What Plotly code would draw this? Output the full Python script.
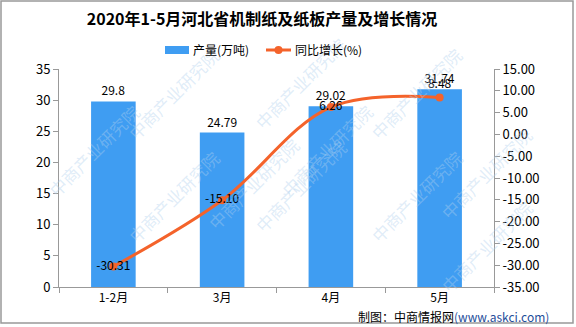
import plotly.graph_objects as go

categories = ["1-2月", "3月", "4月", "5月"]
output_wt = [29.8, 24.79, 29.02, 31.74]
growth_pct = [-30.31, -15.10, 6.26, 8.48]

left_ticks = [0, 5, 10, 15, 20, 25, 30, 35]
right_ticks = [15, 10, 5, 0, -5, -10, -15, -20, -25, -30, -35]
right_labels = ["%.2f" % v for v in right_ticks]
growth_labels = ["%.2f" % v for v in growth_pct]
series_names = ["产量(万吨)", "同比增长(%)"]

BAR = "#3F9DF2"
LINE = "#F4632B"
FONT = "Noto Sans CJK SC"

fig = go.Figure()
fig.add_trace(go.Bar(
    x=categories, y=output_wt, name=series_names[0],
    marker=dict(color=BAR, line=dict(width=0)),
    text=[str(v) for v in output_wt], textposition="outside",
    textfont=dict(size=12, color="#000000", family=FONT),
    cliponaxis=False, showlegend=False,
))
fig.add_trace(go.Scatter(
    x=categories, y=growth_pct, name=series_names[1], yaxis="y2",
    mode="lines+markers+text",
    line=dict(color=LINE, width=3, shape="spline", smoothing=1.0),
    marker=dict(color=LINE, size=8),
    text=growth_labels,
    textposition=["middle center", "middle center", "middle center", "top center"],
    textfont=dict(size=12, color="#000000", family=FONT),
    cliponaxis=False, showlegend=False,
))

# pixel positions converted to paper units of the plot area
def px_to_paper(px, py):
    return (px - 59) / 435.0, (287 - py) / 218.0

# faint diagonal watermark across the canvas
wm_px = [(120, 40), (300, 30), (470, 40),
         (40, 150), (200, 130), (380, 150), (540, 120),
         (120, 250), (300, 240), (470, 250), (540, 300)]
for (wx, wy) in wm_px:
    px, py = px_to_paper(wx, wy)
    fig.add_annotation(x=px, y=py, xref="paper", yref="paper", text="中商产业研究院",
                       showarrow=False, textangle=-45,
                       font=dict(size=17, color="rgba(175,208,238,0.4)", family=FONT))

# legend drawn by hand: wide swatch for the bars, line with dot for the growth series
r0x, r0y = px_to_paper(165, 54)
r1x, r1y = px_to_paper(189, 46)
fig.add_shape(type="rect", xref="paper", yref="paper", x0=r0x, x1=r1x, y0=r0y, y1=r1y,
              fillcolor=BAR, line=dict(width=0))
t0x, t0y = px_to_paper(191, 50)
fig.add_annotation(x=t0x, y=t0y, xref="paper", yref="paper", xanchor="left", yanchor="middle",
                   text=series_names[0], showarrow=False,
                   font=dict(size=12, color="#000000", family=FONT))
l0x, l0y = px_to_paper(266, 50)
l1x, _ = px_to_paper(291, 50)
fig.add_shape(type="line", xref="paper", yref="paper", x0=l0x, x1=l1x, y0=l0y, y1=l0y,
              line=dict(color=LINE, width=3))
c0x, c0y = px_to_paper(274.5, 54)
c1x, c1y = px_to_paper(282.5, 46)
fig.add_shape(type="circle", xref="paper", yref="paper", x0=c0x, x1=c1x, y0=c0y, y1=c1y,
              fillcolor=LINE, line=dict(width=0))
t1x, t1y = px_to_paper(293, 50)
fig.add_annotation(x=t1x, y=t1y, xref="paper", yref="paper", xanchor="left", yanchor="middle",
                   text=series_names[1], showarrow=False,
                   font=dict(size=12, color="#000000", family=FONT))

fx, fy = px_to_paper(551, 316)
fig.add_annotation(x=fx, y=fy, xref="paper", yref="paper", xanchor="right", yanchor="middle",
                   text="制图：中商情报网<span style='color:#1F4E9A'>(www.askci.com)</span>",
                   showarrow=False, font=dict(size=12, color="#000000", family=FONT))

bx0, by0 = px_to_paper(1, 323)
bx1, by1 = px_to_paper(573, 1)
fig.add_shape(type="rect", xref="paper", yref="paper",
              x0=bx0, x1=bx1, y0=by0, y1=by1,
              line=dict(color="#999999", width=1.5), layer="below")

fig.update_layout(
    width=576, height=327,
    margin=dict(l=59, r=82, t=69, b=40),
    paper_bgcolor="#FFFFFF", plot_bgcolor="#FFFFFF",
    title=dict(text="<b>2020年1-5月河北省机制纸及纸板产量及增长情况</b>",
               x=0.455, xanchor="center", y=0.94, yanchor="middle",
               font=dict(size=16, color="#000000", family=FONT)),
    bargap=0.59,
    showlegend=False,
    xaxis=dict(showline=True, linecolor="#999999", linewidth=1, ticks="outside",
               tickcolor="#999999", ticklen=5, tickson="boundaries",
               tickfont=dict(size=12, color="#000000", family=FONT), showgrid=False),
    yaxis=dict(range=[0, 35], tickvals=left_ticks, showline=True, linecolor="#999999",
               linewidth=1, ticks="outside", tickcolor="#999999", ticklen=5,
               showgrid=False, zeroline=False,
               tickfont=dict(size=13, color="#000000", family=FONT)),
    yaxis2=dict(range=[-35, 15], overlaying="y", side="right", tickvals=right_ticks,
                ticktext=right_labels, showline=True, linecolor="#999999", linewidth=1,
                ticks="outside", tickcolor="#999999", ticklen=5, showgrid=False,
                zeroline=False, tickfont=dict(size=13, color="#000000", family=FONT)),
)

fig.write_html("out.html")
